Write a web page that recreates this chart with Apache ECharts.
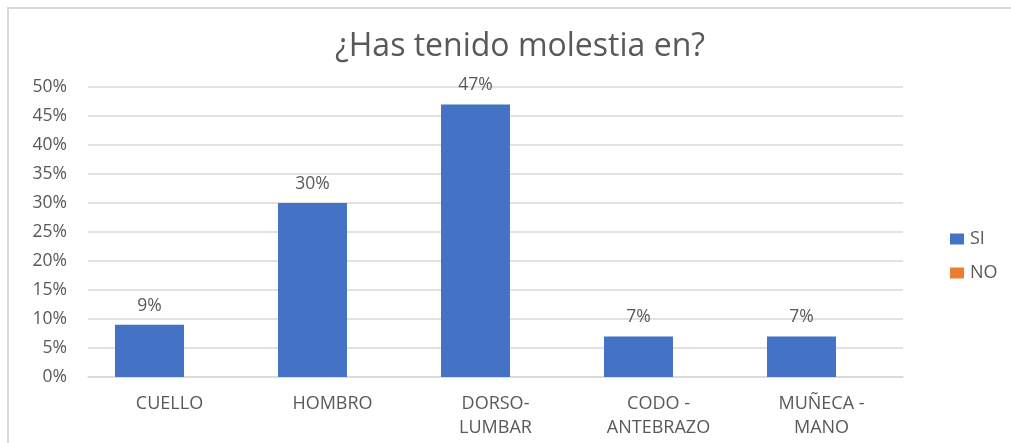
<!DOCTYPE html>
<html>
<head>
<meta charset="utf-8">
<script src="https://cdn.jsdelivr.net/npm/echarts@6/dist/echarts.min.js"></script>
<style>
  html, body { margin: 0; padding: 0; background: #fff; }
  #frame { position: absolute; left: 7px; top: 7px; width: 1004px; height: 436px;
           border-top: 2px solid #d9d9d9; border-left: 2px solid #d9d9d9; box-sizing: border-box; }
  #chart { position: absolute; left: 0; top: 0; width: 1011px; height: 443px; }
</style>
</head>
<body>
<div id="frame"></div>
<div id="chart"></div>
<script>
// Values (percent)
const categories = ["CUELLO", "HOMBRO", "DORSO-\nLUMBAR", "CODO -\nANTEBRAZO", "MUÑECA -\nMANO"];
const siValues = [9, 30, 47, 7, 7];
const noValues = [null, null, null, null, null];

const chart = echarts.init(document.getElementById("chart"));

const font = "'Open Sans', sans-serif";
const textColor = "#595959";

const option = {
  animation: false,
  textStyle: { fontFamily: font },
  title: {
    text: "¿Has tenido molestia en?",
    left: 515,
    textAlign: "center",
    top: 26,
    textStyle: { color: textColor, fontSize: 32, fontWeight: "normal", fontFamily: font },
  },
  legend: {
    orient: "vertical",
    left: 945,
    top: 225,
    itemWidth: 14,
    itemHeight: 11,
    itemGap: 16,
    textStyle: { color: textColor, fontSize: 18, fontFamily: font, padding: [0, 0, 0, 1] },
    data: [
      { name: "SI", icon: "rect" },
      { name: "NO", icon: "rect" },
    ],
  },
  grid: { left: 88, right: 108, top: 87, bottom: 66 },
  xAxis: {
    type: "category",
    data: categories,
    axisLine: { lineStyle: { color: "#d9d9d9", width: 1.5 } },
    axisTick: { show: false },
    axisLabel: { color: textColor, fontSize: 18, fontFamily: font, margin: 15, lineHeight: 24, interval: 0 },
  },
  yAxis: {
    type: "value",
    min: 0,
    max: 50,
    interval: 5,
    axisLine: { show: false },
    axisTick: { show: false },
    axisLabel: { color: textColor, fontSize: 17.5, fontFamily: font, margin: 21, formatter: "{value}%" },
    splitLine: { lineStyle: { color: "#d9d9d9", width: 1.5 } },
  },
  series: [
    {
      name: "SI",
      type: "bar",
      data: siValues,
      barWidth: 69,
      barGap: "-42%",
      itemStyle: { color: "#4472c4" },
      label: {
        show: true,
        position: "top",
        distance: 10,
        formatter: "{c}%",
        color: textColor,
        fontSize: 17.5,
        fontFamily: font,
      },
    },
    {
      name: "NO",
      type: "bar",
      data: noValues,
      barWidth: 69,
      itemStyle: { color: "#ed7d31" },
    },
  ],
};

chart.setOption(option);
</script>
</body>
</html>
